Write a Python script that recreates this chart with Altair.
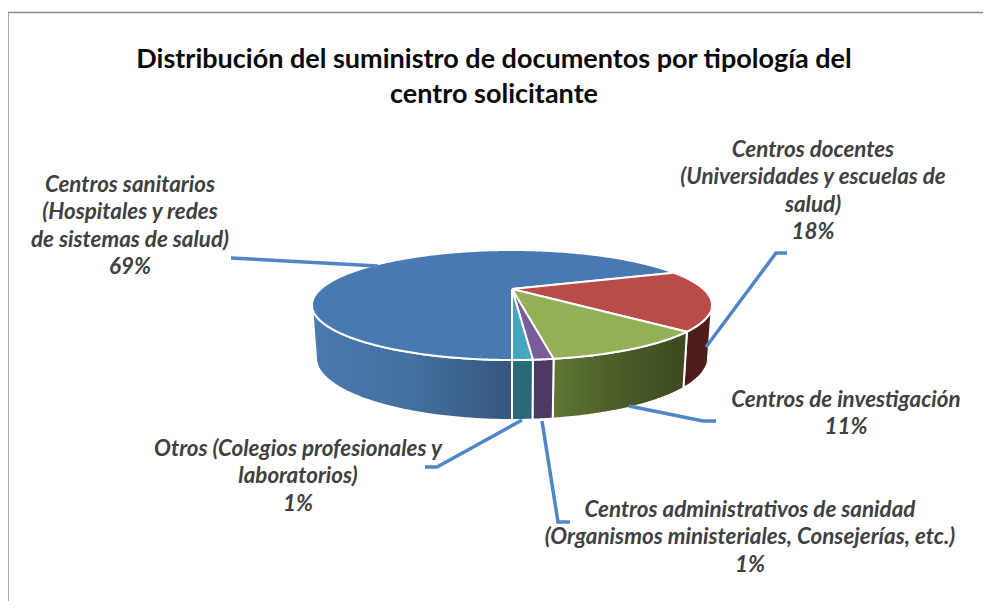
import altair as alt
import numpy as np
import pandas as pd

W, H = 975, 593
OX, OY = 8, 8

# Slice data
slices = ["Centros sanitarios", "Centros docentes", "Centros de investigación",
          "Centros administrativos de sanidad", "Otros"]
shares_label = [69, 18, 11, 1, 1]
drawn_span_deg = [234, 65, 49, 6, 6]   # apparent rim spans in the perspective view
top_colors = ["#4879b2", "#b94c48", "#93b056", "#7b5c9a", "#46a6bf"]
wall_stops = [
    ["#4b7aaf", "#44709f", "#34567f"],
    ["#4f1e1b", "#4f1e1b", "#4f1e1b"],
    ["#5f7733", "#4a5c28", "#3c4a20"],
    ["#4c3a62", "#4c3a62", "#4c3a62"],
    ["#28697a", "#28697a", "#28697a"],
]

title_lines = ["Distribución del suministro de documentos por tipología del",
               "centro solicitante"]

label_blocks = [
    (["Centros sanitarios", "(Hospitales  y redes", "de sistemas de salud)", "69%"], 130, 192),
    (["Centros docentes", "(Universidades y escuelas de", "salud)", "18%"], 813, 157),
    (["Centros de investigación", "11%"], 846, 407),
    (["Centros administrativos de sanidad", "(Organismos ministeriales, Consejerías, etc.)", "1%"], 750, 517),
    (["Otros (Colegios profesionales y", "laboratorios)", "1%"], 298, 456),
]
leaders = [
    [(231, 258), (378, 266)],
    [(787, 253), (776, 253), (706, 347)],
    [(716, 421), (703, 421), (629, 406)],
    [(570, 522), (558, 522), (542, 421)],
    [(425, 467), (437, 467), (522, 420)],
]

APEX = (512, 289)
TOP = dict(cx=512, cy=305, rx=200, ry=55)
LOW = dict(cx=512, cy=358, rx=196, ry=62)

x_scale = alt.Scale(domain=[OX, OX + W], range=[0, W], nice=False, zero=False)
y_scale = alt.Scale(domain=[OY + H, OY], range=[H, 0], nice=False, zero=False)
X = alt.X("x:Q", scale=x_scale, axis=None)
Y = alt.Y("y:Q", scale=y_scale, axis=None)


def rim(e, deg):
    t = np.radians(deg)
    return float(e["cx"] + e["rx"] * np.sin(t)), float(e["cy"] - e["ry"] * np.cos(t))


def poly(points):
    pts = list(points) + [points[0]]
    return pd.DataFrame({"x": [p[0] for p in pts], "y": [p[1] for p in pts], "i": range(len(pts))})


def shape(points, fill, sw=2.0):
    return alt.Chart(poly(points)).mark_line(fill=fill, stroke="white", strokeWidth=sw, strokeJoin="round").encode(
        x=X, y=Y, order=alt.Order("i:Q"))


layers = []

# frame
frame = pd.DataFrame({"x": [OX, OX, OX + W], "y": [OY + H, 12.5, 12.5], "i": [0, 1, 2]})
layers.append(alt.Chart(frame).mark_line(stroke="#8c8c8c", strokeWidth=1.5).encode(x=X, y=Y, order=alt.Order("i:Q")))

# walls, then top faces
starts = 180 + np.concatenate([[0], np.cumsum(drawn_span_deg)[:-1]])
for s, span, stops in zip(starts, drawn_span_deg, wall_stops):
    a0, a1 = float(s), float(s + span)
    for lo, hi in [(90, 270), (450, 630)]:
        b0, b1 = max(a0, lo), min(a1, hi)
        if b1 <= b0:
            continue
        ang = np.linspace(b0, b1, 60)
        pts = [rim(TOP, d) for d in ang] + [rim(LOW, d) for d in ang[::-1]]
        grad = alt.LinearGradient(gradient="linear", x1=0, x2=1, y1=0, y2=0, stops=[
            alt.GradientStop(color=stops[0], offset=0),
            alt.GradientStop(color=stops[1], offset=0.5),
            alt.GradientStop(color=stops[2], offset=1)])
        layers.append(shape(pts, grad))

for s, span, col in zip(starts, drawn_span_deg, top_colors):
    ang = np.linspace(float(s), float(s + span), max(int(span * 2), 8))
    pts = [APEX] + [rim(TOP, d) for d in ang]
    layers.append(shape(pts, col))

# leader lines
for seg in leaders:
    df = pd.DataFrame({"x": [p[0] for p in seg], "y": [p[1] for p in seg], "i": range(len(seg))})
    layers.append(alt.Chart(df).mark_line(stroke="#4f86c6", strokeWidth=3.5).encode(x=X, y=Y, order=alt.Order("i:Q")))

# labels
rows = []
for lines, cx, y0 in label_blocks:
    for n, t in enumerate(lines):
        rows.append({"x": cx, "y": y0 + n * 27.4, "t": t, "k": len(rows)})
layers.append(alt.Chart(pd.DataFrame(rows)).mark_text(
    font="Lato", fontSize=22.4, fontStyle="italic", fontWeight="bold", color="#404040",
    align="center", baseline="alphabetic").encode(x=X, y=Y, text="t:N", detail="k:N"))

# title
tdf = pd.DataFrame({"x": [494, 494], "y": [68, 103], "t": title_lines})
layers.append(alt.Chart(tdf).mark_text(
    font="Lato", fontSize=27, fontWeight="bold", color="#0a0a0a",
    align="center", baseline="alphabetic").encode(x=X, y=Y, text="t:N"))

chart = alt.layer(*layers).properties(
    width=W, height=H, padding=0, autosize=alt.AutoSizeParams(type="none"), background="white"
).configure_view(stroke=None)

chart.save("out.html", embed_options={"renderer": "svg", "actions": False})
